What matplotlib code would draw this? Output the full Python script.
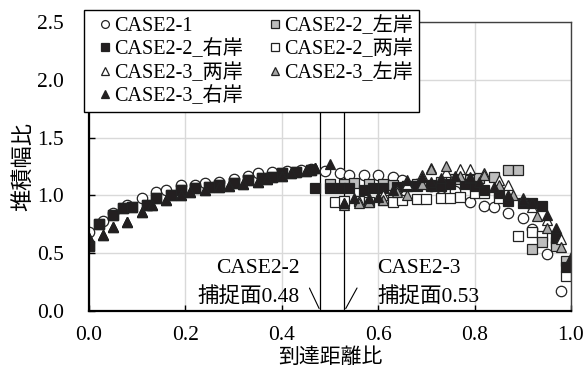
import numpy as np
import matplotlib.pyplot as plt

plt.rcParams['font.family'] = ['Liberation Serif', 'Noto Sans CJK JP']

# CASE2-1 (open circles)
x_21 = [0.00, 0.03, 0.05, 0.08, 0.11, 0.14, 0.16, 0.19, 0.22, 0.24, 0.27, 0.30,
        0.33, 0.35, 0.38, 0.41, 0.44, 0.46, 0.49, 0.52, 0.54, 0.57, 0.60, 0.63,
        0.65, 0.68, 0.71, 0.73, 0.76, 0.79, 0.82, 0.84, 0.87, 0.90, 0.92, 0.95, 0.98]
y_21 = [0.68, 0.78, 0.85, 0.92, 0.98, 1.03, 1.05, 1.09, 1.09, 1.11, 1.12, 1.14,
        1.17, 1.19, 1.20, 1.21, 1.22, 1.23, 1.21, 1.19, 1.18, 1.18, 1.18, 1.16,
        1.13, 1.10, 1.08, 1.06, 1.04, 0.94, 0.91, 0.90, 0.85, 0.80, 0.71, 0.49, 0.17]

# CASE2-2 (squares); common part before the capture plane
x_22_up = [0.00, 0.02, 0.05, 0.07, 0.09, 0.12, 0.14, 0.17, 0.19, 0.22, 0.25, 0.27,
           0.30, 0.33, 0.36, 0.38, 0.40, 0.43, 0.46]
y_22_up = [0.56, 0.75, 0.83, 0.89, 0.90, 0.92, 0.98, 1.00, 1.05, 1.06, 1.07, 1.09,
           1.11, 1.13, 1.15, 1.16, 1.19, 1.20, 1.22]

x_22_r = [0.47, 0.50, 0.52, 0.54, 0.57, 0.59, 0.61, 0.64, 0.66, 0.68, 0.71, 0.73,
          0.75, 0.78, 0.80, 0.82, 0.85, 0.87, 0.90, 0.92, 0.94, 0.97, 0.99]
y_22_r = [1.06, 1.06, 1.06, 1.06, 1.05, 1.06, 1.06, 1.07, 1.08, 1.08, 1.09, 1.08,
          1.10, 1.10, 1.08, 1.05, 1.02, 0.95, 0.93, 0.93, 0.91, 0.63, 0.38]

x_22_l = [0.50, 0.53, 0.55, 0.58, 0.61, 0.63, 0.66, 0.68, 0.71, 0.73, 0.76, 0.79,
          0.81, 0.84, 0.87, 0.89, 0.92, 0.94, 0.97, 0.99]
y_22_l = [1.10, 1.10, 1.11, 1.10, 1.10, 1.09, 1.08, 1.10, 1.08, 1.12, 1.14, 1.13,
          1.15, 1.16, 1.22, 1.22, 0.54, 0.60, 0.56, 0.43]

x_22_b = [0.51, 0.53, 0.56, 0.58, 0.61, 0.63, 0.65, 0.68, 0.70, 0.73, 0.75, 0.77,
          0.80, 0.82, 0.85, 0.89, 0.92, 0.94, 0.97, 0.99]
y_22_b = [0.94, 0.95, 0.95, 0.94, 0.96, 0.94, 0.96, 0.97, 0.97, 0.98, 0.98, 0.99,
          1.02, 1.02, 0.98, 0.65, 0.68, 0.65, 0.60, 0.30]

# CASE2-3 (triangles); common part before the capture plane
x_23_up = [0.00, 0.03, 0.05, 0.08, 0.11, 0.13, 0.16, 0.19, 0.21, 0.24, 0.27, 0.29,
           0.32, 0.35, 0.37, 0.40, 0.42, 0.45, 0.47]
y_23_up = [0.63, 0.66, 0.73, 0.77, 0.86, 0.92, 0.96, 1.00, 1.03, 1.05, 1.07, 1.08,
           1.10, 1.12, 1.14, 1.17, 1.19, 1.21, 1.24]

x_23_r = [0.50, 0.53, 0.55, 0.58, 0.60, 0.63, 0.66, 0.69, 0.71, 0.73, 0.76, 0.79,
          0.81, 0.84, 0.87, 0.90, 0.92, 0.95, 0.97, 1.00]
y_23_r = [1.27, 0.93, 0.98, 0.98, 0.99, 1.05, 1.13, 1.16, 1.12, 1.15, 1.17, 1.16,
          1.12, 1.07, 1.00, 0.96, 0.93, 0.83, 0.72, 0.47]

x_23_l = [0.53, 0.56, 0.58, 0.61, 0.64, 0.66, 0.69, 0.71, 0.74, 0.77, 0.79, 0.82,
          0.85, 0.88, 0.90, 0.93, 0.95, 0.98]
y_23_l = [0.92, 0.93, 0.94, 0.96, 1.03, 1.00, 1.10, 1.23, 1.25, 1.17, 1.15, 1.18,
          1.09, 1.00, 0.96, 0.82, 0.72, 0.55]

x_23_b = [0.53, 0.56, 0.58, 0.61, 0.64, 0.66, 0.69, 0.71, 0.74, 0.77, 0.79, 0.82,
          0.85, 0.87, 0.90, 0.92, 0.95, 0.98]
y_23_b = [0.93, 0.95, 0.96, 1.00, 1.05, 1.10, 1.18, 1.24, 1.20, 1.23, 1.23, 1.19,
          1.13, 1.09, 0.98, 0.90, 0.79, 0.62]

capture = [0.48, 0.53]

fig = plt.figure(figsize=(5.85, 3.72), dpi=100)
ax = fig.add_axes([0.152, 0.164, 0.824, 0.777])

ms = 7.5
ec = '#222222'
kw = dict(linestyle='none', markersize=ms, markeredgecolor=ec, markeredgewidth=0.9)

h21, = ax.plot(x_21, y_21, 'o', markerfacecolor='white', **kw)
h22b, = ax.plot(x_22_up + x_22_b, y_22_up + y_22_b, 's', markerfacecolor='white', **kw)
h22l, = ax.plot(x_22_up + x_22_l, y_22_up + y_22_l, 's', markerfacecolor='#bdbdbd', **kw)
h22r, = ax.plot(x_22_up + x_22_r, y_22_up + y_22_r, 's', markerfacecolor='#231f20', **kw)
h23b, = ax.plot(x_23_up + x_23_b, y_23_up + y_23_b, '^', markerfacecolor='white', **kw)
h23l, = ax.plot(x_23_up + x_23_l, y_23_up + y_23_l, '^', markerfacecolor='#a6a6a6', **kw)
h23r, = ax.plot(x_23_up + x_23_r, y_23_up + y_23_r, '^', markerfacecolor='#231f20', **kw)

for c in capture:
    ax.axvline(c, color='black', linewidth=0.9, zorder=1)

fs = 15.5
ax.annotate('', xy=(capture[0], 0.0), xytext=(0.455, 0.22),
            arrowprops=dict(arrowstyle='-', color='black', lw=0.8))
ax.annotate('', xy=(capture[1], 0.0), xytext=(0.559, 0.22),
            arrowprops=dict(arrowstyle='-', color='black', lw=0.8))
ax.text(0.438, 0.37, 'CASE2-2', ha='right', va='center', fontsize=fs)
ax.text(0.438, 0.12, '捕捉面0.48', ha='right', va='center', fontsize=fs)
ax.text(0.598, 0.37, 'CASE2-3', ha='left', va='center', fontsize=fs)
ax.text(0.598, 0.12, '捕捉面0.53', ha='left', va='center', fontsize=fs)

ax.set_xlim(0, 1.0)
ax.set_ylim(0, 2.5)
ax.set_xticks(np.arange(0, 1.01, 0.2))
ax.set_yticks(np.arange(0, 2.51, 0.5))
ax.xaxis.set_major_formatter(plt.FormatStrFormatter('%.1f'))
ax.yaxis.set_major_formatter(plt.FormatStrFormatter('%.1f'))
ax.tick_params(direction='in', labelsize=fs, length=4, width=1)
ax.tick_params(axis='y', pad=18)
ax.tick_params(axis='x', pad=11)
ax.grid(True, color='#d9d9d9', linewidth=1)
ax.set_axisbelow(True)
for s in ['left', 'bottom']:
    ax.spines[s].set_linewidth(1.6)
    ax.spines[s].set_color('black')
for s in ['top', 'right']:
    ax.spines[s].set_linewidth(1.0)
    ax.spines[s].set_color('#404040')

ax.set_xlabel('到達距離比', fontsize=15, labelpad=2)
ax.set_ylabel('堆積幅比', fontsize=16, labelpad=2)

handles = [h21, h22r, h23b, h23r, h22l, h22b, h23l]
labels = ['CASE2-1', 'CASE2-2_右岸', 'CASE2-3_两岸', 'CASE2-3_右岸',
          'CASE2-2_左岸', 'CASE2-2_两岸', 'CASE2-3_左岸']
leg = fig.legend(handles, labels, loc='upper left', bbox_to_anchor=(0.1436, 0.973),
                 ncol=2, fontsize=14.5, frameon=True, fancybox=False,
                 edgecolor='black', framealpha=1, handlelength=1.5,
                 handletextpad=-0.3, labelspacing=0.18, columnspacing=0.85,
                 borderpad=0.3, borderaxespad=0, markerscale=0.75)
leg.get_frame().set_linewidth(1.0)

fig.savefig('out.png', dpi=100)
